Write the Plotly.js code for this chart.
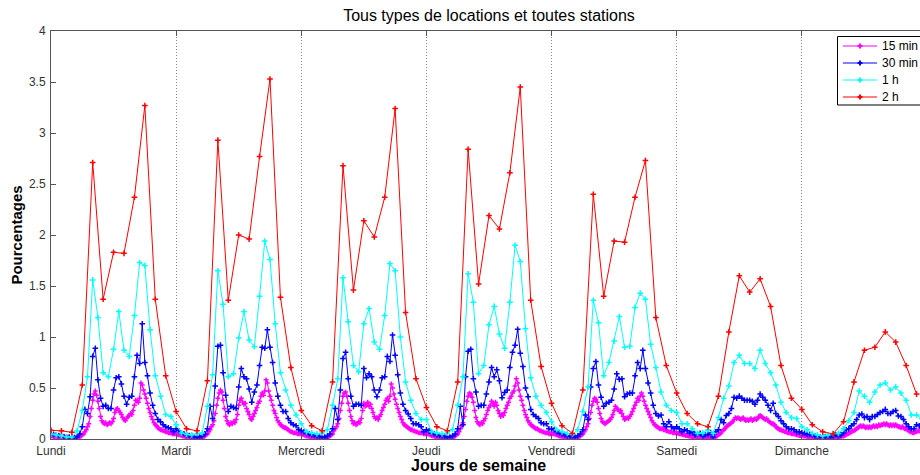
<!DOCTYPE html>
<html>
<head>
<meta charset="utf-8">
<script src="https://cdn.plot.ly/plotly-3.0.1.min.js"></script>
<style>
html,body{margin:0;padding:0;overflow:hidden;background:#fff;}
#chart{width:935px;height:475px;}
</style>
</head>
<body>
<div id="chart"></div>
<script>
// Day tick labels
const dayLabels = ["Lundi","Mardi","Mercredi","Jeudi","Vendredi","Samedi","Dimanche"];
const seriesNames = ["15 min","30 min","1 h","2 h"];

// 2 h series (12 values per day)
const r2hMon = [0.085,0.08,0.065,0.53,2.71,1.37,1.83,1.82,2.37,3.27,1.37,0.62];
const r2hTue = [0.27,0.10,0.08,0.57,2.93,1.36,2.00,1.96,2.77,3.53,1.39,0.70];
const r2hWed = [0.28,0.13,0.08,0.56,2.68,1.46,2.14,1.98,2.37,3.24,1.24,0.59];
const r2hThu = [0.31,0.12,0.08,0.56,2.84,1.52,2.19,2.06,2.61,3.45,1.36,0.71];
const r2hFri = [0.35,0.13,0.055,0.48,2.40,1.40,1.94,1.93,2.37,2.73,1.19,0.72];
const r2hSat = [0.45,0.25,0.15,0.12,0.42,1.05,1.60,1.44,1.57,1.30,0.72,0.40];
const r2hSun = [0.29,0.14,0.07,0.05,0.17,0.56,0.87,0.90,1.05,0.95,0.72,0.44];

// 1 h series (24 values per day)
const c1hMon = [0.05,0.04,0.03,0.02,0.02,0.08,0.28,0.61,1.56,1.19,0.65,0.61,0.88,1.25,0.87,0.81,1.21,1.73,1.70,1.07,0.62,0.42,0.24,0.22];
const c1hTue = [0.14,0.06,0.045,0.04,0.055,0.06,0.32,0.63,1.65,1.32,0.61,0.64,0.99,1.25,0.97,0.905,1.40,1.94,1.76,1.13,0.65,0.48,0.33,0.235];
const c1hWed = [0.15,0.07,0.06,0.05,0.06,0.09,0.33,0.59,1.58,1.15,0.72,0.66,1.13,1.28,0.95,0.88,1.21,1.72,1.65,1.00,0.56,0.38,0.25,0.19];
const c1hThu = [0.19,0.07,0.06,0.05,0.06,0.09,0.33,0.61,1.62,1.34,0.64,0.72,1.12,1.30,1.03,0.89,1.34,1.90,1.74,1.08,0.60,0.42,0.33,0.26];
const c1hFri = [0.17,0.09,0.07,0.055,0.045,0.09,0.27,0.51,1.36,1.14,0.62,0.75,0.96,1.20,0.90,0.91,1.29,1.43,1.37,0.93,0.70,0.46,0.33,0.28];
const c1hSat = [0.26,0.15,0.15,0.10,0.055,0.06,0.09,0.055,0.21,0.40,0.52,0.75,0.82,0.74,0.74,0.69,0.87,0.74,0.65,0.53,0.36,0.26,0.21,0.20];
const c1hSun = [0.12,0.09,0.055,0.04,0.03,0.04,0.055,0.055,0.10,0.18,0.26,0.47,0.42,0.36,0.46,0.53,0.55,0.48,0.51,0.45,0.38,0.235,0.235,0.20];

// 30 min series (48 values per day)
const b30Mon = [0.05,0.045,0.04,0.035,0.03,0.025,0.02,0.02,0.015,0.015,0.02,0.05,
  0.12,0.29,0.25,0.415,0.81,0.89,0.58,0.40,0.32,0.33,0.30,0.30,
  0.48,0.60,0.61,0.54,0.42,0.34,0.41,0.42,0.61,0.82,0.74,1.13,
  0.75,0.62,0.45,0.33,0.25,0.19,0.17,0.14,0.12,0.11,0.10,0.07];
const b30Tue = [0.10,0.08,0.06,0.05,0.04,0.035,0.03,0.02,0.02,0.02,0.03,0.05,
  0.10,0.32,0.20,0.52,0.91,0.92,0.65,0.43,0.27,0.32,0.31,0.30,
  0.51,0.69,0.61,0.59,0.49,0.36,0.46,0.53,0.72,0.90,0.89,1.07,
  0.90,0.75,0.55,0.42,0.33,0.27,0.27,0.20,0.16,0.14,0.13,0.09];
const b30Wed = [0.08,0.07,0.06,0.05,0.04,0.035,0.03,0.025,0.02,0.02,0.03,0.05,
  0.10,0.30,0.19,0.48,0.79,0.85,0.59,0.42,0.32,0.34,0.34,0.33,
  0.69,0.60,0.64,0.61,0.48,0.415,0.48,0.60,0.61,0.81,0.76,1.02,
  0.82,0.63,0.45,0.34,0.28,0.245,0.20,0.15,0.15,0.14,0.12,0.07];
const b30Thu = [0.09,0.08,0.06,0.05,0.04,0.035,0.03,0.025,0.02,0.02,0.03,0.05,
  0.10,0.32,0.14,0.61,0.86,0.88,0.59,0.46,0.32,0.33,0.33,0.44,
  0.56,0.70,0.61,0.68,0.57,0.405,0.455,0.48,0.70,0.85,0.92,1.075,
  0.84,0.71,0.50,0.415,0.29,0.24,0.22,0.20,0.16,0.15,0.15,0.10];
const b30Fri = [0.10,0.09,0.07,0.06,0.05,0.04,0.03,0.03,0.02,0.02,0.03,0.05,
  0.09,0.235,0.19,0.51,0.69,0.76,0.53,0.41,0.32,0.35,0.36,0.38,
  0.49,0.64,0.585,0.59,0.415,0.44,0.45,0.45,0.62,0.75,0.69,0.87,
  0.69,0.55,0.45,0.33,0.25,0.225,0.235,0.15,0.12,0.17,0.12,0.10];
const b30Sat = [0.12,0.10,0.07,0.09,0.08,0.06,0.07,0.04,0.045,0.055,0.03,0.04,
  0.045,0.06,0.02,0.07,0.09,0.19,0.16,0.23,0.25,0.30,0.41,0.40,
  0.42,0.40,0.38,0.38,0.38,0.37,0.34,0.38,0.44,0.41,0.38,0.33,
  0.28,0.35,0.25,0.22,0.18,0.15,0.12,0.10,0.10,0.09,0.07,0.07];
const b30Sun = [0.06,0.055,0.045,0.045,0.04,0.03,0.025,0.02,0.02,0.025,0.02,0.02,
  0.03,0.04,0.03,0.04,0.06,0.09,0.10,0.13,0.15,0.19,0.235,0.245,
  0.21,0.22,0.19,0.22,0.22,0.24,0.26,0.27,0.29,0.25,0.25,0.27,
  0.28,0.225,0.22,0.19,0.15,0.12,0.10,0.10,0.14,0.13,0.11,0.10];

// 15 min series (96 values per day)
const m15Mon = [0.03,0.03,0.025,0.025, 0.02,0.02,0.02,0.015, 0.015,0.015,0.01,0.01, 0.01,0.01,0.01,0.005,
  0.01,0.005,0.01,0.01, 0.01,0.015,0.02,0.03, 0.04,0.05,0.07,0.09, 0.12,0.15,0.22,0.30,
  0.38,0.44,0.47,0.43, 0.37,0.30,0.22,0.18, 0.16,0.15,0.16,0.14, 0.15,0.16,0.15,0.17,
  0.20,0.26,0.29,0.30, 0.28,0.26,0.24,0.21, 0.19,0.18,0.20,0.22, 0.23,0.25,0.24,0.28,
  0.33,0.38,0.37,0.36, 0.40,0.55,0.53,0.48, 0.44,0.40,0.35,0.30, 0.26,0.22,0.19,0.16,
  0.14,0.13,0.11,0.10, 0.09,0.09,0.08,0.08, 0.07,0.07,0.06,0.06, 0.06,0.05,0.05,0.05];
const m15Tue = [0.05,0.045,0.04,0.04, 0.035,0.03,0.03,0.025, 0.02,0.02,0.02,0.015, 0.015,0.01,0.01,0.01,
  0.01,0.01,0.015,0.01, 0.015,0.02,0.03,0.04, 0.05,0.07,0.09,0.12, 0.14,0.18,0.25,0.33,
  0.40,0.45,0.48,0.46, 0.38,0.30,0.22,0.18, 0.15,0.14,0.16,0.15, 0.17,0.16,0.19,0.24,
  0.33,0.38,0.40,0.36, 0.34,0.35,0.30,0.27, 0.24,0.20,0.19,0.22, 0.25,0.28,0.31,0.35,
  0.37,0.42,0.45,0.43, 0.47,0.58,0.55,0.47, 0.42,0.38,0.33,0.28, 0.25,0.21,0.18,0.16,
  0.14,0.13,0.12,0.11, 0.11,0.10,0.09,0.08, 0.07,0.07,0.06,0.06, 0.06,0.05,0.05,0.05];
const m15Wed = [0.05,0.045,0.04,0.035, 0.03,0.03,0.025,0.025, 0.02,0.02,0.015,0.015, 0.01,0.01,0.01,0.01,
  0.01,0.01,0.01,0.015, 0.015,0.02,0.03,0.04, 0.05,0.08,0.10,0.12, 0.15,0.20,0.28,0.35,
  0.42,0.45,0.46,0.42, 0.35,0.28,0.22,0.18, 0.15,0.16,0.14,0.15, 0.17,0.16,0.20,0.28,
  0.35,0.32,0.33,0.36, 0.32,0.34,0.30,0.26, 0.22,0.20,0.21,0.19, 0.22,0.24,0.28,0.31,
  0.34,0.38,0.40,0.37, 0.42,0.54,0.50,0.44, 0.39,0.34,0.30,0.26, 0.22,0.19,0.16,0.14,
  0.13,0.12,0.11,0.10, 0.09,0.09,0.08,0.08, 0.07,0.07,0.06,0.06, 0.06,0.06,0.05,0.05];
const m15Thu = [0.05,0.05,0.045,0.04, 0.035,0.03,0.03,0.025, 0.02,0.02,0.02,0.015, 0.015,0.01,0.01,0.01,
  0.01,0.01,0.015,0.01, 0.015,0.02,0.03,0.04, 0.05,0.07,0.10,0.13, 0.16,0.22,0.29,0.37,
  0.42,0.45,0.44,0.41, 0.36,0.28,0.21,0.17, 0.15,0.14,0.16,0.15, 0.18,0.20,0.24,0.28,
  0.31,0.33,0.37,0.35, 0.32,0.36,0.33,0.28, 0.25,0.22,0.24,0.23, 0.26,0.30,0.33,0.36,
  0.40,0.42,0.45,0.47, 0.52,0.59,0.55,0.48, 0.42,0.38,0.33,0.28, 0.24,0.21,0.18,0.16,
  0.14,0.13,0.12,0.11, 0.10,0.10,0.09,0.08, 0.08,0.07,0.07,0.06, 0.06,0.06,0.05,0.05];
const m15Fri = [0.06,0.05,0.05,0.045, 0.04,0.035,0.03,0.03, 0.025,0.02,0.02,0.02, 0.015,0.015,0.01,0.01,
  0.01,0.01,0.01,0.015, 0.015,0.02,0.03,0.04, 0.05,0.07,0.09,0.12, 0.15,0.20,0.26,0.33,
  0.37,0.40,0.39,0.36, 0.30,0.25,0.20,0.17, 0.16,0.15,0.16,0.17, 0.18,0.19,0.21,0.24,
  0.28,0.32,0.30,0.29, 0.27,0.28,0.25,0.22, 0.19,0.20,0.21,0.20, 0.22,0.24,0.27,0.30,
  0.33,0.36,0.40,0.38, 0.42,0.45,0.42,0.37, 0.33,0.30,0.27,0.24, 0.21,0.18,0.16,0.14,
  0.13,0.12,0.11,0.10, 0.10,0.10,0.09,0.09, 0.08,0.08,0.07,0.07, 0.07,0.06,0.06,0.06];
const m15Sat = [0.06,0.055,0.05,0.05, 0.045,0.04,0.04,0.035, 0.035,0.03,0.03,0.025, 0.025,0.02,0.02,0.02,
  0.015,0.015,0.015,0.01, 0.01,0.01,0.015,0.01, 0.01,0.015,0.01,0.015, 0.02,0.02,0.025,0.03,
  0.04,0.05,0.06,0.08, 0.09,0.10,0.12,0.13, 0.14,0.15,0.16,0.17, 0.19,0.21,0.20,0.21,
  0.20,0.19,0.20,0.21, 0.19,0.18,0.19,0.18, 0.19,0.20,0.18,0.19, 0.20,0.19,0.20,0.22,
  0.23,0.22,0.21,0.20, 0.19,0.20,0.18,0.17, 0.16,0.15,0.15,0.14, 0.12,0.11,0.10,0.09,
  0.09,0.08,0.08,0.07, 0.07,0.06,0.06,0.06, 0.05,0.05,0.05,0.045, 0.04,0.04,0.035,0.035];
const m15Sun = [0.035,0.03,0.03,0.03, 0.025,0.025,0.02,0.02, 0.02,0.02,0.015,0.015, 0.015,0.01,0.01,0.01,
  0.01,0.01,0.01,0.01, 0.01,0.01,0.01,0.01, 0.01,0.015,0.015,0.015, 0.02,0.02,0.025,0.03,
  0.03,0.035,0.04,0.05, 0.055,0.06,0.07,0.08, 0.08,0.09,0.10,0.11, 0.12,0.13,0.12,0.13,
  0.12,0.11,0.12,0.11, 0.12,0.11,0.12,0.13, 0.12,0.13,0.12,0.14, 0.13,0.14,0.14,0.15,
  0.14,0.15,0.14,0.13, 0.14,0.13,0.14,0.13, 0.14,0.13,0.12,0.12, 0.11,0.12,0.11,0.10,
  0.10,0.09,0.08,0.07, 0.07,0.06,0.06,0.07, 0.07,0.08,0.08,0.07, 0.07,0.06,0.06,0.06];

const colors = ["#ff00ff","#0000ff","#00ffff","#ff0000"];
const markerSizes = [3.5, 4, 4, 4];

function series(days, stepHours){
  const y = [].concat(...days);
  const x = y.map((_, i) => i * stepHours);
  return {x, y};
}

const s15 = series([m15Mon,m15Tue,m15Wed,m15Thu,m15Fri,m15Sat,m15Sun], 0.25);
const s30 = series([b30Mon,b30Tue,b30Wed,b30Thu,b30Fri,b30Sat,b30Sun], 0.5);
const s1h = series([c1hMon,c1hTue,c1hWed,c1hThu,c1hFri,c1hSat,c1hSun], 1);
const s2h = series([r2hMon,r2hTue,r2hWed,r2hThu,r2hFri,r2hSat,r2hSun], 2);

const traces = [s15, s30, s1h, s2h].map((s, k) => ({
  type: "scatter", mode: "lines+markers",
  x: s.x, y: s.y, name: seriesNames[k], showlegend: false,
  line: {color: colors[k], width: 1},
  marker: {color: colors[k], symbol: "cross-thin", size: markerSizes[k], line: {color: colors[k], width: 1.5}},
  cliponaxis: true
}));

const tickHours = dayLabels.map((_, i) => i * 24);

// Plot area geometry (pixels) used to place the MATLAB-style legend box and x label
const W = 935, H = 475, ML = 51, MR = 8, MT = 31, MB = 36;
const PW = W - ML - MR, PH = H - MT - MB;
const px = v => (v - ML) / PW;
const py = v => 1 - (v - MT) / PH;

const shapes = [{
  type: "rect", xref: "paper", yref: "paper", layer: "above",
  x0: px(837.5), x1: px(930), y0: py(105), y1: py(36.5),
  fillcolor: "#fff", line: {color: "#000", width: 1}
}];
const annotations = [];
const rowY = [46, 63, 80, 97];
seriesNames.forEach((name, k) => {
  const yy = py(rowY[k]);
  shapes.push({type: "line", xref: "paper", yref: "paper", layer: "above",
    x0: px(843), x1: px(877), y0: yy, y1: yy, line: {color: colors[k], width: 1}});
  shapes.push({type: "line", xref: "paper", yref: "paper", layer: "above",
    x0: px(857.5), x1: px(862.5), y0: yy, y1: yy, line: {color: colors[k], width: 2}});
  shapes.push({type: "line", xref: "paper", yref: "paper", layer: "above",
    x0: px(860), x1: px(860), y0: py(rowY[k] - 2.5), y1: py(rowY[k] + 2.5), line: {color: colors[k], width: 2}});
  annotations.push({xref: "paper", yref: "paper", x: px(880), y: yy, xanchor: "left", yanchor: "middle",
    text: name, showarrow: false, font: {size: 12, color: "#000"}});
});
// x-axis label
annotations.push({xref: "paper", yref: "paper", x: px(478), y: py(465), xanchor: "center", yanchor: "middle",
  text: "Jours de semaine", showarrow: false, font: {size: 16, color: "#000", weight: "bold"}});

const layout = {
  width: W, height: H,
  margin: {l: ML, r: MR, t: MT, b: MB},
  paper_bgcolor: "#fff", plot_bgcolor: "#fff",
  font: {family: "Liberation Sans, Arial, sans-serif", size: 12, color: "#333"},
  title: {text: "Tous types de locations et toutes stations", font: {size: 16, color: "#000"},
          x: 0.5, xref: "paper", xanchor: "center", y: 0.968, yref: "container", yanchor: "middle"},
  xaxis: {
    range: [0, 168], tickvals: tickHours, ticktext: dayLabels,
    showline: true, linecolor: "#555", linewidth: 1, mirror: "ticks",
    ticks: "inside", ticklen: 5, tickcolor: "#555",
    showgrid: true, gridcolor: "#888", griddash: "1px,2px", gridwidth: 1,
    zeroline: false, ticklabelstandoff: 1,
    tickfont: {size: 12, color: "#333"}
  },
  yaxis: {
    range: [0, 4], dtick: 0.5, tick0: 0,
    showline: true, linecolor: "#555", linewidth: 1, mirror: "ticks",
    ticks: "inside", ticklen: 5, tickcolor: "#555",
    showgrid: false, zeroline: false, ticklabelstandoff: 2,
    tickfont: {size: 12, color: "#333"},
    title: {text: "Pourcentages", font: {size: 15, color: "#000", weight: "bold"}, standoff: 2}
  },
  shapes, annotations,
  showlegend: false
};

Plotly.newPlot("chart", traces, layout, {displayModeBar: false, staticPlot: true});
</script>
</body>
</html>
